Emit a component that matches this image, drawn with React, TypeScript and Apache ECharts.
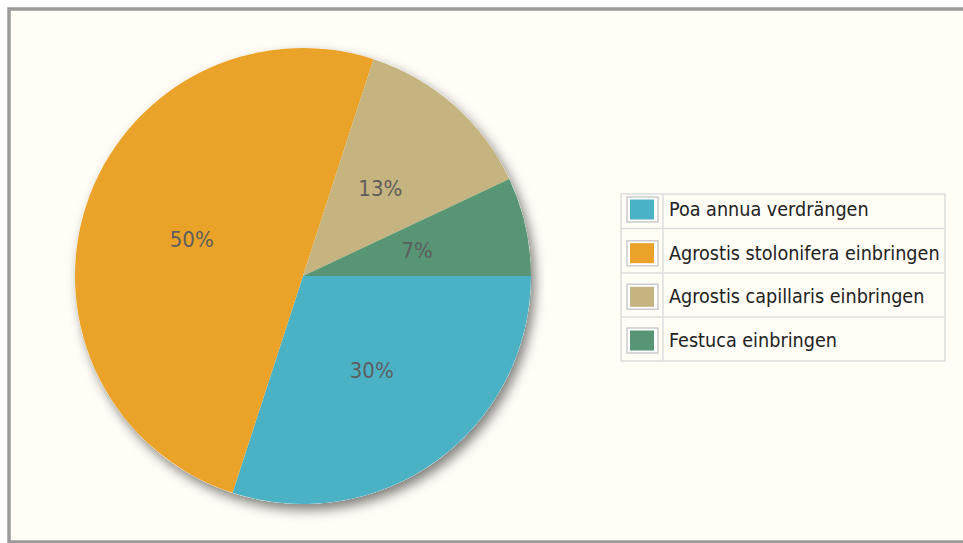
import React, { useEffect, useRef } from "react";
import * as echarts from "echarts";

const categories = [
  "Poa annua verdrängen",
  "Agrostis stolonifera einbringen",
  "Agrostis capillaris einbringen",
  "Festuca einbringen",
];
const values = [30, 50, 13, 7];
const colors = ["#4bb2c5", "#eaa228", "#c5b47f", "#579575"];

export default function App() {
  const ref = useRef<HTMLDivElement>(null);
  useEffect(() => {
    if (!ref.current) return;
    const chart = echarts.init(ref.current, null, { renderer: "svg" });
    const legendTop = 199.5;
    const itemH = 20;
    const pitch = 43.67;
    const frames = categories.map((_, i) => ({
      type: "rect",
      z: 1,
      shape: { x: 627, y: legendTop + i * pitch + itemH / 2 - 12.5, width: 31, height: 25 },
      style: { fill: "#ffffff", stroke: "#cccccc", lineWidth: 1.5 },
    }));
    const hLines = [194, 228.5, 273, 317, 361].map((y) => ({
      type: "line",
      z: 1,
      shape: { x1: 621, y1: y, x2: 945, y2: y },
      style: { stroke: "#dddddd", lineWidth: 1.5 },
    }));
    const vLines = [621, 663, 945].map((x) => ({
      type: "line",
      z: 1,
      shape: { x1: x, y1: 194, x2: x, y2: 361 },
      style: { stroke: "#dddddd", lineWidth: 1.5 },
    }));
    chart.setOption({
      animation: false,
      backgroundColor: "#ffffff",
      color: colors,
      graphic: [
        {
          type: "rect",
          z: 0,
          shape: { x: 9, y: 9, width: 1000, height: 533 },
          style: { fill: "#fffdf6", stroke: "#9a9a9a", lineWidth: 3.5 },
        },
        ...hLines,
        ...vLines,
        ...frames,
      ],
      legend: {
        orient: "vertical",
        left: 630,
        top: legendTop,
        padding: 0,
        itemWidth: 24,
        itemHeight: itemH,
        itemGap: pitch - itemH,
        icon: "rect",
        selectedMode: false,
        data: categories,
        textStyle: {
          fontFamily: "'DejaVu Sans Condensed', sans-serif",
          fontSize: 19.6,
          lineHeight: 20,
          color: "#222222",
          padding: [0, 0, 0, 10],
        },
      },
      series: [
        {
          type: "pie",
          name: "shadow",
          center: [303, 276],
          radius: 228,
          silent: true,
          z: 1,
          label: { show: false },
          labelLine: { show: false },
          itemStyle: {
            color: "#fffdf6",
            shadowColor: "rgba(0,0,0,0.5)",
            shadowBlur: 12,
            shadowOffsetX: 4,
            shadowOffsetY: 6,
          },
          data: [{ name: "_shadow", value: 1 }],
        },
        {
          type: "pie",
          center: [303, 276],
          radius: 228,
          startAngle: 0,
          clockwise: true,
          z: 2,
          percentPrecision: 0,
          itemStyle: { borderWidth: 0 },
          emphasis: { disabled: true },
          label: {
            show: true,
            position: "inside",
            formatter: "{d}%",
            color: "#5e5e5e",
            fontSize: 22,
            fontFamily: "'DejaVu Sans Condensed', sans-serif",
          },
          labelLine: { show: false },
          data: categories.map((name, i) => ({ name, value: values[i] })),
        },
      ],
    });
    return () => chart.dispose();
  }, []);
  return (
    <div
      ref={ref}
      style={{ position: "fixed", left: 0, top: 0, width: 963, height: 543 }}
    />
  );
}
